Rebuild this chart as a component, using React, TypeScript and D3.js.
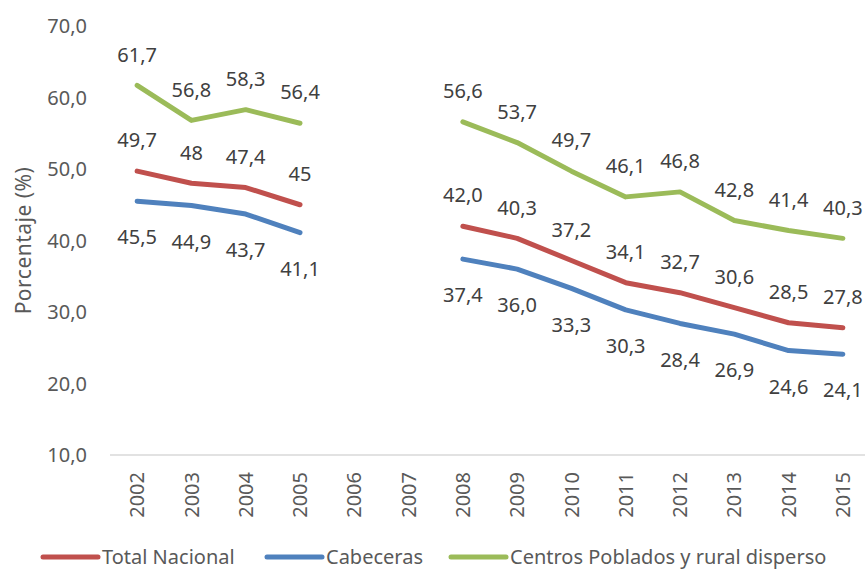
import { useEffect, useRef } from 'react';
import * as d3 from 'd3';

const years = ['2002', '2003', '2004', '2005', '2006', '2007', '2008', '2009', '2010', '2011', '2012', '2013', '2014', '2015'];
const totalNacional = [49.7, 48, 47.4, 45, null, null, 42.0, 40.3, 37.2, 34.1, 32.7, 30.6, 28.5, 27.8];
const totalLabels = ['49,7', '48', '47,4', '45', '', '', '42,0', '40,3', '37,2', '34,1', '32,7', '30,6', '28,5', '27,8'];
const cabeceras = [45.5, 44.9, 43.7, 41.1, null, null, 37.4, 36.0, 33.3, 30.3, 28.4, 26.9, 24.6, 24.1];
const centrosPoblados = [61.7, 56.8, 58.3, 56.4, null, null, 56.6, 53.7, 49.7, 46.1, 46.8, 42.8, 41.4, 40.3];
const yTicks = [10, 20, 30, 40, 50, 60, 70];

type Series = {
  name: string;
  values: (number | null)[];
  labels?: string[];
  color: string;
  above: boolean;
};

const series: Series[] = [
  { name: 'Total Nacional', values: totalNacional, labels: totalLabels, color: '#c0504d', above: true },
  { name: 'Cabeceras', values: cabeceras, color: '#4f81bd', above: false },
  { name: 'Centros Poblados y rural disperso', values: centrosPoblados, color: '#9bbb59', above: true }
];

const FONT = '"Noto Sans", "Open Sans", sans-serif';
const fmt = (v: number) => v.toFixed(1).replace('.', ',');

const Chart = () => {
  const ref = useRef<SVGSVGElement | null>(null);

  useEffect(() => {
    if (!ref.current) return;
    const svg = d3.select(ref.current);
    svg.selectAll('*').remove();

    const left = 110;
    const right = 870;
    const top = 26;
    const bottom = 455;

    const x = d3.scaleBand().domain(years).range([left, right]);
    const y = d3.scaleLinear().domain([10, 70]).range([bottom, top]);
    const cx = (d: string) => (x(d) as number) + x.bandwidth() / 2;

    // y tick labels
    svg.append('g')
      .selectAll('text')
      .data(yTicks)
      .enter()
      .append('text')
      .attr('x', 87)
      .attr('y', (d) => y(d))
      .attr('dy', '0.36em')
      .attr('text-anchor', 'end')
      .style('font-family', FONT)
      .style('font-size', '20px')
      .style('fill', '#595959')
      .text((d) => fmt(d));

    // y title
    svg.append('text')
      .attr('transform', `translate(23, ${(top + bottom) / 2}) rotate(-90)`)
      .attr('dy', '0.36em')
      .attr('text-anchor', 'middle')
      .style('font-family', FONT)
      .style('font-size', '21px')
      .style('letter-spacing', '0.5px')
      .style('fill', '#595959')
      .text('Porcentaje (%)');

    // base axis line
    svg.append('line')
      .attr('x1', left)
      .attr('x2', right)
      .attr('y1', y(10))
      .attr('y2', y(10))
      .attr('stroke', '#d9d9d9')
      .attr('stroke-width', 1.5);

    // x labels
    svg.append('g')
      .selectAll('text')
      .data(years)
      .enter()
      .append('text')
      .attr('transform', (d) => `translate(${cx(d)}, 472) rotate(-90)`)
      .attr('dy', '0.36em')
      .attr('text-anchor', 'end')
      .style('font-family', FONT)
      .style('font-size', '20px')
      .style('fill', '#595959')
      .text((d) => d);

    // lines
    series.forEach((s) => {
      const pts = years.map((yr, i) => ({ yr, v: s.values[i], label: s.labels ? s.labels[i] : s.values[i] == null ? '' : fmt(s.values[i] as number) }));
      const line = d3
        .line<{ yr: string; v: number | null }>()
        .defined((d) => d.v != null)
        .x((d) => cx(d.yr))
        .y((d) => y(d.v as number));

      svg.append('path')
        .datum(pts)
        .attr('fill', 'none')
        .attr('stroke', s.color)
        .attr('stroke-width', 5)
        .attr('stroke-linecap', 'round')
        .attr('stroke-linejoin', 'round')
        .attr('d', line);

      svg.append('g')
        .selectAll('text')
        .data(pts.filter((d) => d.v != null))
        .enter()
        .append('text')
        .attr('x', (d) => cx(d.yr))
        .attr('y', (d) => y(d.v as number) + (s.above ? -31 : 36))
        .attr('dy', '0.36em')
        .attr('text-anchor', 'middle')
        .style('font-family', FONT)
        .style('font-size', '20px')
        .style('fill', '#404040')
        .text((d) => d.label);
    });

    // legend
    const legendX = [43, 267, 451];
    series.forEach((s, i) => {
      const g = svg.append('g').attr('transform', `translate(${legendX[i]}, 557)`);
      g.append('line')
        .attr('x1', 0)
        .attr('x2', 55)
        .attr('y1', 0)
        .attr('y2', 0)
        .attr('stroke', s.color)
        .attr('stroke-width', 5)
        .attr('stroke-linecap', 'round');
      g.append('text')
        .attr('x', 59)
        .attr('y', 0)
        .attr('dy', '0.36em')
        .style('font-family', FONT)
        .style('font-size', '20px')
        .style('fill', '#595959')
        .text(s.name);
    });
  }, []);

  return <svg ref={ref} width={865} height={570} style={{ display: 'block', background: '#fff' }} />;
};

export default function App() {
  return (
    <div style={{ position: 'fixed', left: 0, top: 0, width: 865, height: 570, overflow: 'hidden' }}>
      <Chart />
    </div>
  );
}
